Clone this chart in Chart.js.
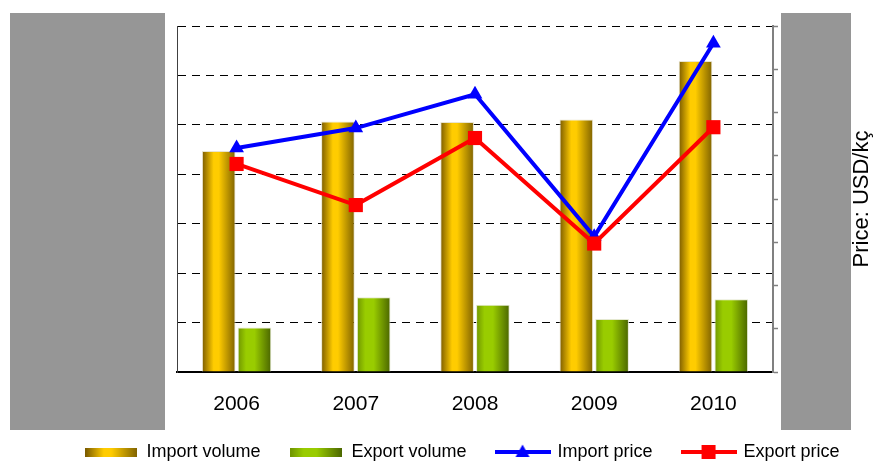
<!DOCTYPE html>
<html lang="en">
<head>
    <meta charset="UTF-8">
    <title>Import / export volume and price</title>
    <script src="https://cdn.jsdelivr.net/npm/chart.js"></script>
    <style>
        body {
            margin: 0;
            background: #fff;
        }
        canvas {
            display: block;
        }
    </style>
</head>
<body>

<canvas id="myChart" width="875" height="465"></canvas>

<script>
    // values (volume axis hidden, 0-7 scale; price axis 0-8)
    const years = ['2006', '2007', '2008', '2009', '2010'];
    const importVolume = [4.47, 5.07, 5.06, 5.11, 6.29];
    const exportVolume = [0.90, 1.51, 1.36, 1.07, 1.47];
    const importPrice = [5.18, 5.64, 6.42, 3.13, 7.60];
    const exportPrice = [4.81, 3.86, 5.41, 2.97, 5.66];
    const seriesNames = ['Import volume', 'Export volume', 'Import price', 'Export price'];
    const priceTitle = 'Price: USD/kç';

    const FONT = 'Arial, "Liberation Sans", sans-serif';
    Chart.defaults.font.family = FONT;
    Chart.defaults.color = '#000';

    const goldStops = [[0, '#7a5a00'], [0.35, '#ffcc00'], [0.5, '#ffcc00'], [1, '#7f6200']];
    const greenStops = [[0, '#6f9500'], [0.25, '#99cc00'], [0.5, '#99cc00'], [1, '#4a6500']];

    // horizontal gradient for every bar, following the bar's own x range
    const barShade = {
        id: 'barShade',
        beforeDatasetDraw(chart, args) {
            const ds = chart.data.datasets[args.index];
            if (!ds.shades) return;
            const ctx = chart.ctx;
            args.meta.data.forEach(bar => {
                const l = bar.x - bar.width / 2;
                const g = ctx.createLinearGradient(l, 0, l + bar.width, 0);
                ds.shades.forEach(s => g.addColorStop(s[0], s[1]));
                bar.options.backgroundColor = g;
            });
        }
    };

    // grey panels over the axes and the rotated price title
    const frame = {
        id: 'frame',
        afterDraw(chart) {
            const ctx = chart.ctx;
            ctx.save();
            ctx.fillStyle = '#969696';
            ctx.fillRect(10, 13, 155, 417);
            ctx.fillRect(781, 13, 70, 417);
            ctx.translate(862, 199);
            ctx.rotate(-Math.PI / 2);
            ctx.fillStyle = '#000';
            ctx.font = '22px ' + FONT;
            ctx.textAlign = 'center';
            ctx.textBaseline = 'middle';
            ctx.fillText(priceTitle, 0, 0);
            ctx.restore();
        }
    };

    function barIcon(stops) {
        const c = document.createElement('canvas');
        c.width = 52; c.height = 9;
        const x = c.getContext('2d');
        const g = x.createLinearGradient(0, 0, 52, 0);
        stops.forEach(s => g.addColorStop(s[0], s[1]));
        x.fillStyle = g;
        x.fillRect(0, 0, 52, 9);
        return c;
    }

    function lineIcon(color, marker) {
        const c = document.createElement('canvas');
        c.width = 56; c.height = 16;
        const x = c.getContext('2d');
        x.strokeStyle = color;
        x.lineWidth = 4;
        x.beginPath();
        x.moveTo(0, 8); x.lineTo(56, 8);
        x.stroke();
        x.fillStyle = color;
        if (marker === 'triangle') {
            x.beginPath();
            x.moveTo(28, 0.5); x.lineTo(35, 13); x.lineTo(21, 13);
            x.closePath();
            x.fill();
        } else {
            x.fillRect(21, 1, 14, 14);
        }
        return c;
    }

    const legendIcons = [
        barIcon(goldStops),
        barIcon(greenStops),
        lineIcon('#0000ff', 'triangle'),
        lineIcon('#ff0000', 'rect')
    ];

    const ctx = document.getElementById('myChart').getContext('2d');
    const myChart = new Chart(ctx, {
        type: 'bar',
        data: {
            labels: years,
            datasets: [
                {
                    label: seriesNames[0],
                    data: importVolume,
                    yAxisID: 'y',
                    order: 3,
                    shades: goldStops,
                    backgroundColor: () => '#ffcc00',
                    borderColor: '#e8e4d0',
                    borderWidth: 1,
                    categoryPercentage: 0.6,
                    barPercentage: 0.94
                },
                {
                    label: seriesNames[1],
                    data: exportVolume,
                    yAxisID: 'y',
                    order: 3,
                    shades: greenStops,
                    backgroundColor: () => '#99cc00',
                    borderColor: '#e4e8d0',
                    borderWidth: 1,
                    categoryPercentage: 0.6,
                    barPercentage: 0.94
                },
                {
                    type: 'line',
                    label: seriesNames[2],
                    data: importPrice,
                    yAxisID: 'y1',
                    order: 1,
                    borderColor: '#0000ff',
                    backgroundColor: '#0000ff',
                    borderWidth: 4,
                    pointStyle: 'triangle',
                    pointRadius: 8.5,
                    pointBorderWidth: 0,
                    tension: 0
                },
                {
                    type: 'line',
                    label: seriesNames[3],
                    data: exportPrice,
                    yAxisID: 'y1',
                    order: 0,
                    borderColor: '#ff0000',
                    backgroundColor: '#ff0000',
                    borderWidth: 4,
                    pointStyle: 'rect',
                    pointRadius: 10,
                    pointBorderWidth: 0,
                    tension: 0
                }
            ]
        },
        options: {
            responsive: false,
            animation: false,
            devicePixelRatio: 1,
            layout: {
                padding: { top: 26, left: 50, right: 0, bottom: -6 }
            },
            scales: {
                x: {
                    grid: { display: false },
                    border: { display: true, color: '#000', width: 2 },
                    ticks: { font: { size: 21 }, padding: 12, color: '#000' },
                    afterFit: s => { s.height = 41; }
                },
                y: {
                    position: 'left',
                    min: 0,
                    max: 7,
                    ticks: { display: false, stepSize: 1 },
                    grid: { color: '#000', lineWidth: 1, drawTicks: false },
                    border: { display: true, color: '#404040', width: 1, dash: [8, 6] },
                    afterFit: s => { s.width = 127; }
                },
                y1: {
                    position: 'right',
                    min: 0,
                    max: 8,
                    ticks: { display: false, stepSize: 1 },
                    grid: { drawOnChartArea: false, drawTicks: true, tickLength: 5, tickColor: '#808080', tickWidth: 1.5 },
                    border: { display: true, color: '#808080', width: 2 },
                    afterFit: s => { s.width = 102; }
                }
            },
            plugins: {
                tooltip: { enabled: false },
                legend: {
                    position: 'bottom',
                    labels: {
                        usePointStyle: true,
                        pointStyleWidth: 52,
                        font: { size: 18 },
                        color: '#000',
                        padding: 30,
                        sort: (a, b) => a.datasetIndex - b.datasetIndex,
                        generateLabels(chart) {
                            const items = Chart.defaults.plugins.legend.labels.generateLabels(chart);
                            items.forEach(it => { it.pointStyle = legendIcons[it.datasetIndex]; });
                            return items;
                        }
                    }
                }
            }
        },
        plugins: [barShade, frame]
    });
</script>

</body>
</html>
